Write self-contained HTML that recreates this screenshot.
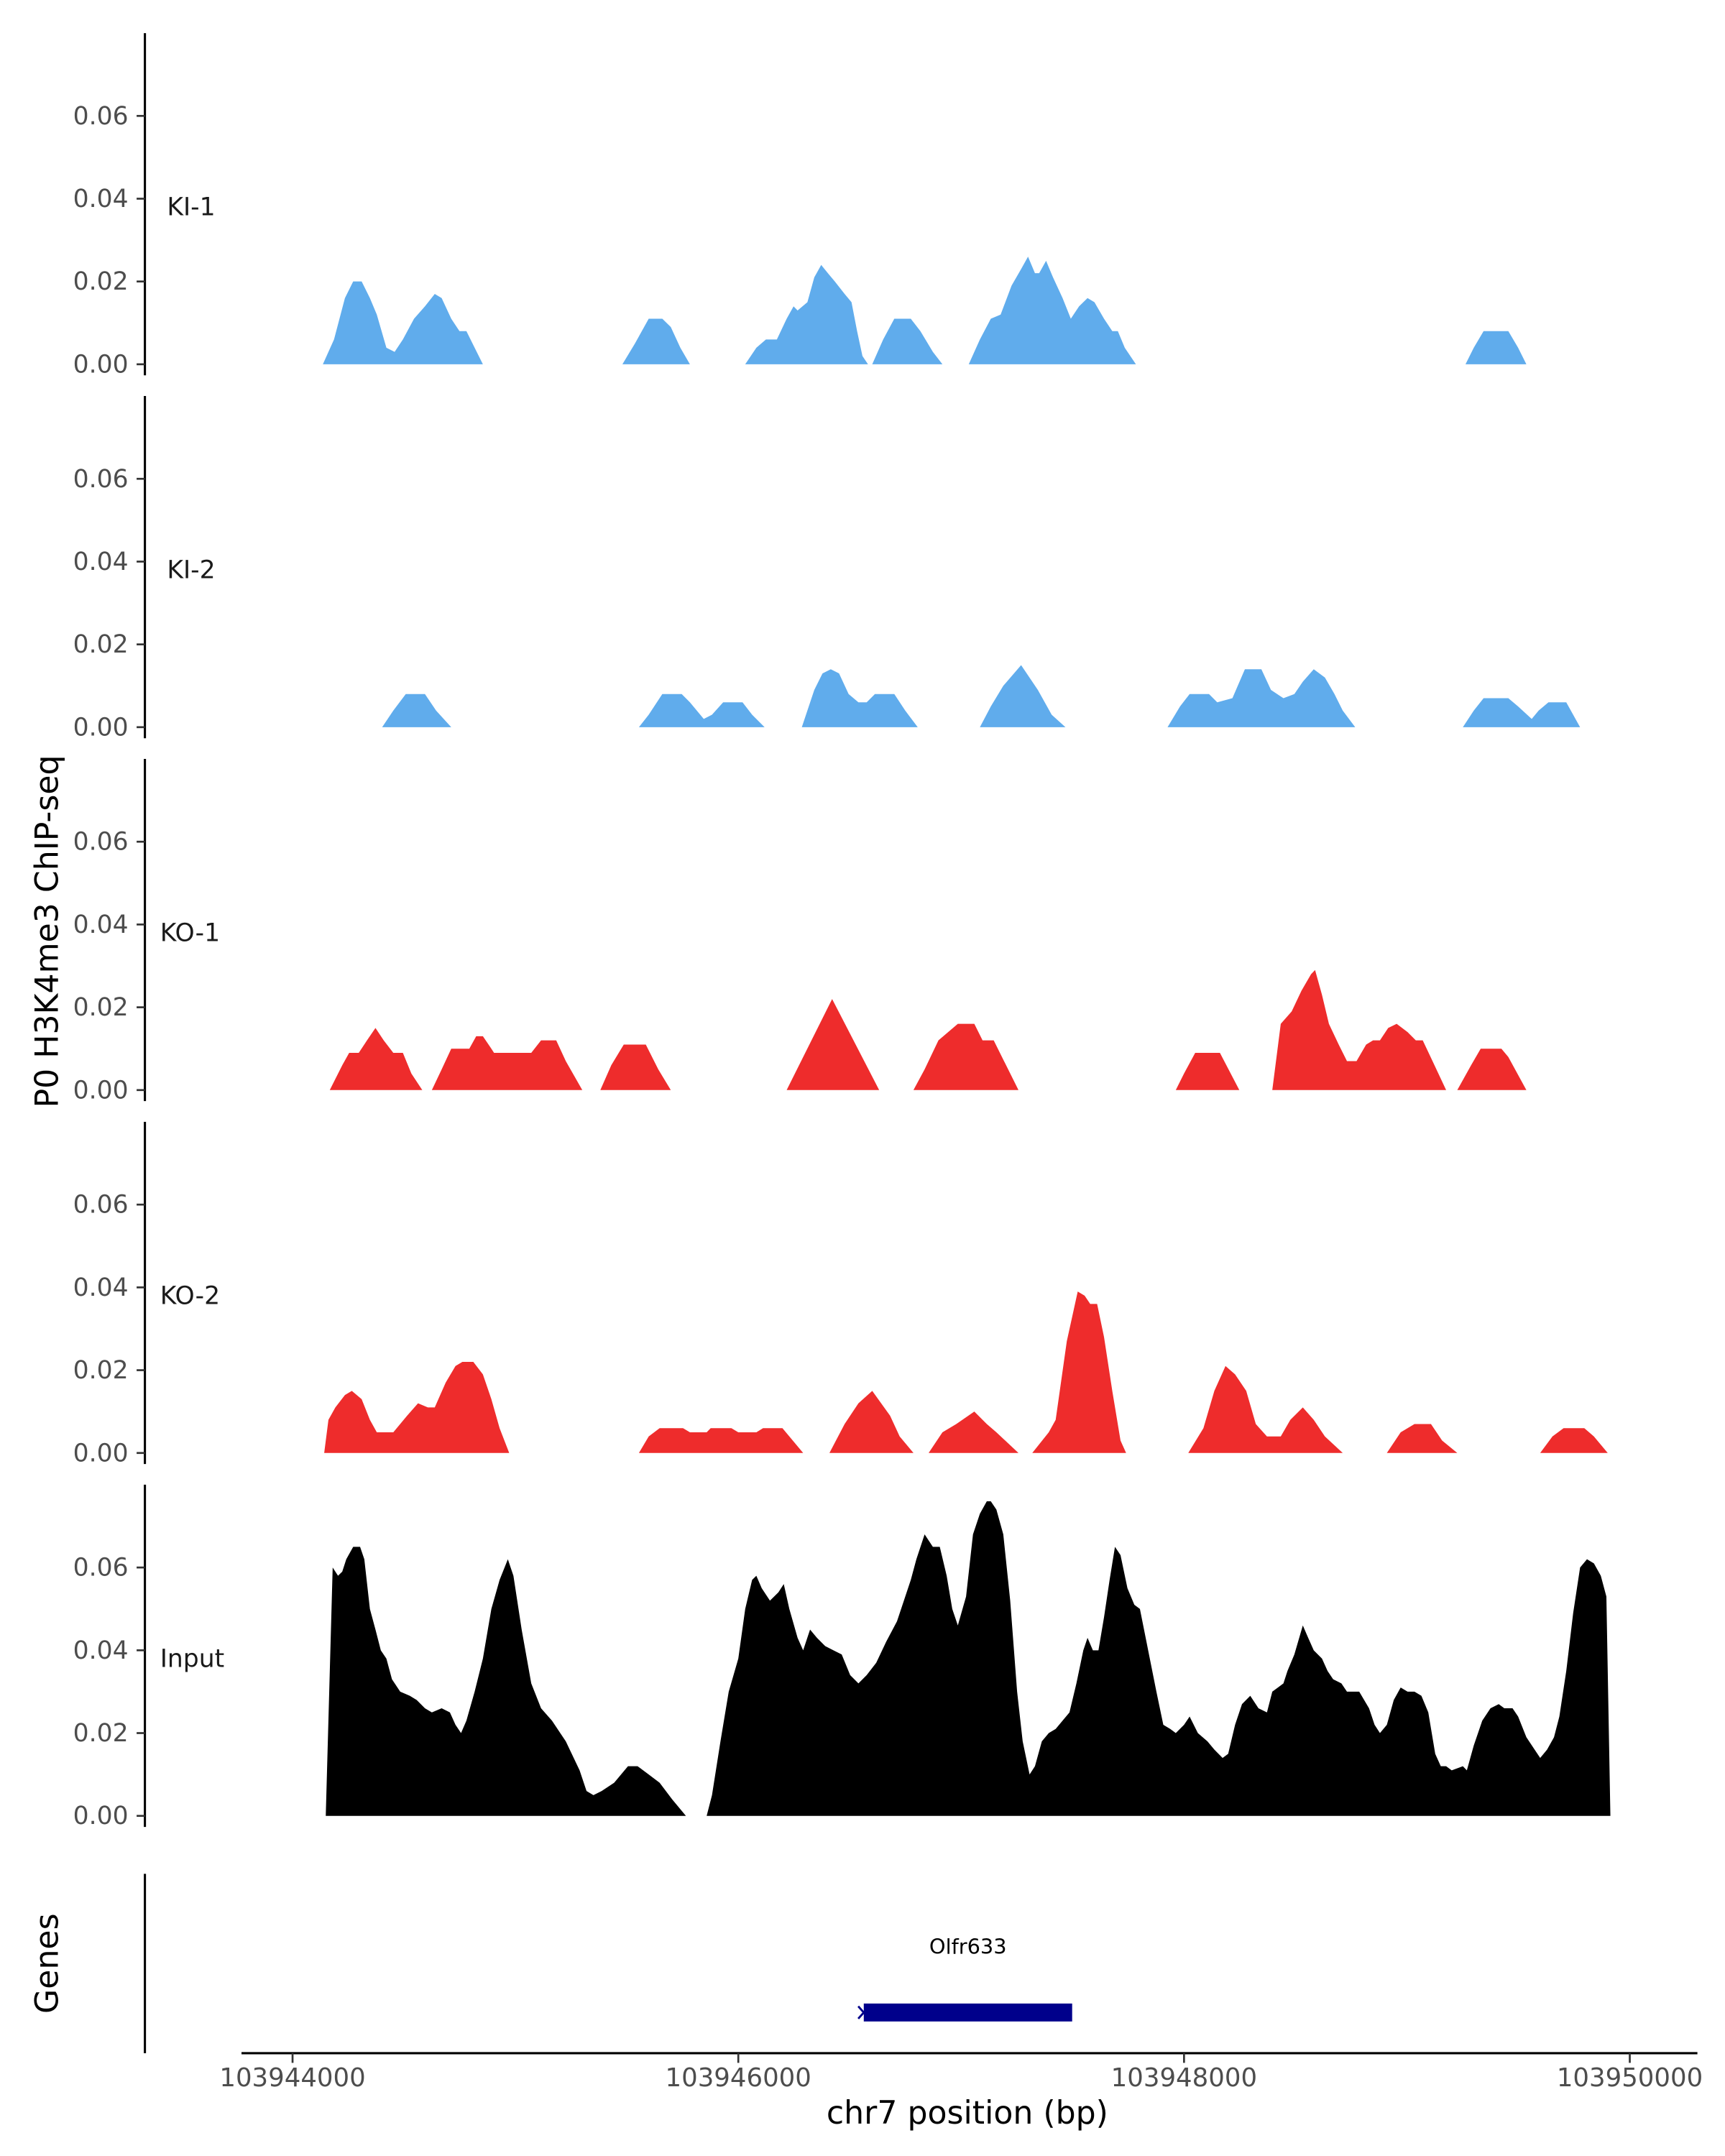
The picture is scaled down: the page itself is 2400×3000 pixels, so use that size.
<!DOCTYPE html>
<html><head><meta charset="utf-8">
<style>
html,body{margin:0;padding:0;background:#fff;}
svg{display:block;font-family:"DejaVu Sans","Liberation Sans",sans-serif;}
</style></head>
<body>
<svg id="chart" width="2400" height="3000" viewBox="0 0 1250 1562.5" xmlns="http://www.w3.org/2000/svg">
<text x="42" y="675" transform="rotate(-90 42 675)" text-anchor="middle" font-size="23" fill="#000">P0 H3K4me3 ChIP-seq</text>
<text x="42" y="1423" transform="rotate(-90 42 1423)" text-anchor="middle" font-size="23" fill="#000">Genes</text>
<line x1="105" y1="1358" x2="105" y2="1488" stroke="#000" stroke-width="1.6"/>
<line x1="175" y1="1488" x2="1230" y2="1488" stroke="#000" stroke-width="1.6"/>
<text x="701" y="1539" text-anchor="middle" font-size="23" fill="#000">chr7 position (bp)</text>
<g id="tracks"></g>
<g id="xaxis"></g>
<g id="genes"></g>
</svg>
<script>
const START = 103944000;
const trackNames = ["KI-1","KI-2","KO-1","KO-2","Input"];
const trackColors = ["#60ACEC","#60ACEC","#EE2C2C","#EE2C2C","#000000"];
const yTicks = [0, 0.02, 0.04, 0.06];
const yTickLabels = ["0.00","0.02","0.04","0.06"];
const xTicks = [103944000, 103946000, 103948000, 103950000];
const xTickLabels = ["103944000","103946000","103948000","103950000"];
const geneName = "Olfr633";
const geneStart = 103946563;
const geneEnd = 103947498;

// positions in kb offset from START; null separates segments
const ki1Pos = [0.136,0.186,0.235,0.272,0.310,0.347,0.378,0.421,0.458,0.495,0.545,0.594,0.638,0.669,0.712,0.749,0.780,0.817,0.854,null,
1.480,1.536,1.598,1.659,1.697,1.740,1.783,null,
2.031,2.081,2.124,2.173,2.217,2.248,2.266,2.310,2.341,2.372,2.402,2.433,2.477,2.508,2.533,2.557,2.582,null,
2.601,2.650,2.700,2.774,2.817,2.873,2.916,null,
3.034,3.084,3.133,3.177,3.226,3.269,3.300,3.331,3.350,3.381,3.412,3.455,3.492,3.529,3.567,3.598,3.641,3.678,3.703,3.734,3.784,null,
5.263,5.300,5.344,5.455,5.499,5.536];
const ki1Val = [0,0.006,0.016,0.02,0.02,0.016,0.012,0.004,0.003,0.006,0.011,0.014,0.017,0.016,0.011,0.008,0.008,0.004,0,null,
0,0.005,0.011,0.011,0.009,0.004,0,null,
0,0.004,0.006,0.006,0.011,0.014,0.013,0.015,0.021,0.024,0.022,0.02,0.017,0.015,0.008,0.002,0,null,
0,0.006,0.011,0.011,0.008,0.003,0,null,
0,0.006,0.011,0.012,0.019,0.023,0.026,0.022,0.022,0.025,0.021,0.016,0.011,0.014,0.016,0.015,0.011,0.008,0.008,0.004,0,null,
0,0.004,0.008,0.008,0.004,0];

const ki2Pos = [0.402,0.452,0.508,0.594,0.644,0.712,null,
1.554,1.598,1.659,1.746,1.783,1.845,1.882,1.932,2.019,2.062,2.118,null,
2.285,2.341,2.378,2.415,2.452,2.495,2.539,2.576,2.613,2.700,2.749,2.805,null,
3.084,3.133,3.189,3.269,3.344,3.406,3.468,null,
3.926,3.982,4.025,4.112,4.149,4.217,4.273,4.347,4.390,4.446,4.495,4.533,4.582,4.632,4.675,4.712,4.768,null,
5.251,5.300,5.344,5.455,5.499,5.560,5.591,5.635,5.715,5.777];
const ki2Val = [0,0.004,0.008,0.008,0.004,0,null,
0,0.003,0.008,0.008,0.006,0.002,0.003,0.006,0.006,0.003,0,null,
0,0.009,0.013,0.014,0.013,0.008,0.006,0.006,0.008,0.008,0.004,0,null,
0,0.005,0.01,0.015,0.009,0.003,0,null,
0,0.005,0.008,0.008,0.006,0.007,0.014,0.014,0.009,0.007,0.008,0.011,0.014,0.012,0.008,0.004,0,null,
0,0.004,0.007,0.007,0.005,0.002,0.004,0.006,0.006,0];

const ko1Pos = [0.167,0.223,0.254,0.297,0.334,0.372,0.409,0.452,0.495,0.533,0.582,null,
0.625,0.669,0.712,0.793,0.824,0.854,0.892,0.904,1.071,1.115,1.183,1.226,1.300,null,
1.381,1.430,1.486,1.585,1.641,1.697,null,
2.217,2.421,2.632,null,
2.786,2.836,2.898,2.985,3.059,3.096,3.146,3.257,null,
3.963,4.000,4.050,4.161,4.248,null,
4.396,4.434,4.483,4.527,4.570,4.588,4.619,4.650,4.694,4.731,4.774,4.817,4.848,4.879,4.916,4.954,5.003,5.040,5.071,5.115,5.176,null,
5.226,5.288,5.331,5.424,5.455,5.536];
const ko1Val = [0,0.006,0.009,0.009,0.012,0.015,0.012,0.009,0.009,0.004,0,null,
0,0.005,0.01,0.01,0.013,0.013,0.01,0.009,0.009,0.012,0.012,0.007,0,null,
0,0.006,0.011,0.011,0.005,0,null,
0,0.022,0,null,
0,0.005,0.012,0.016,0.016,0.012,0.012,0,null,
0,0.004,0.009,0.009,0,null,
0,0.016,0.019,0.024,0.028,0.029,0.023,0.016,0.011,0.007,0.007,0.011,0.012,0.012,0.015,0.016,0.014,0.012,0.012,0.007,0,null,
0,0.006,0.01,0.01,0.008,0];

const ko2Pos = [0.142,0.161,0.192,0.235,0.266,0.310,0.347,0.378,0.452,0.514,0.563,0.607,0.638,0.687,0.731,0.762,0.811,0.854,0.892,0.929,0.972,null,
1.554,1.598,1.647,1.752,1.783,1.858,1.876,1.969,2.000,2.081,2.111,2.198,2.291,null,
2.409,2.477,2.539,2.601,2.681,2.724,2.786,null,
2.854,2.916,2.978,3.059,3.115,3.158,3.257,null,
3.319,3.393,3.424,3.474,3.523,3.554,3.579,3.610,3.641,3.678,3.715,3.740,null,
4.019,4.087,4.136,4.186,4.229,4.279,4.322,4.372,4.434,4.477,4.533,4.582,4.632,4.712,null,
4.910,4.972,5.034,5.108,5.158,5.226,null,
5.598,5.653,5.703,5.796,5.839,5.901];
const ko2Val = [0,0.008,0.011,0.014,0.015,0.013,0.008,0.005,0.005,0.009,0.012,0.011,0.011,0.017,0.021,0.022,0.022,0.019,0.013,0.006,0,null,
0,0.004,0.006,0.006,0.005,0.005,0.006,0.006,0.005,0.005,0.006,0.006,0,null,
0,0.007,0.012,0.015,0.009,0.004,0,null,
0,0.005,0.007,0.01,0.007,0.005,0,null,
0,0.005,0.008,0.027,0.039,0.038,0.036,0.036,0.028,0.015,0.003,0,null,
0,0.006,0.015,0.021,0.019,0.015,0.007,0.004,0.004,0.008,0.011,0.008,0.004,0,null,
0,0.005,0.007,0.007,0.003,0,null,
0,0.004,0.006,0.006,0.004,0];

const inputPos = [0.149,0.180,0.204,0.223,0.241,0.272,0.303,0.322,0.347,0.372,0.396,0.421,0.446,0.483,0.526,0.557,0.594,0.625,0.669,0.706,0.731,0.756,0.780,0.817,0.854,0.892,0.929,0.966,0.991,1.028,1.071,1.115,1.164,1.226,1.288,1.319,1.350,1.387,1.443,1.505,1.548,1.598,1.647,1.703,1.765,null,
1.858,1.882,1.920,1.957,2.000,2.031,2.062,2.081,2.105,2.142,2.180,2.204,2.229,2.266,2.291,2.322,2.353,2.390,2.427,2.464,2.502,2.539,2.576,2.619,2.663,2.712,2.743,2.774,2.799,2.836,2.873,2.904,2.935,2.960,2.985,3.022,3.053,3.084,3.115,3.133,3.158,3.189,3.220,3.251,3.276,3.307,3.331,3.362,3.393,3.424,3.455,3.486,3.517,3.548,3.567,3.591,3.616,3.641,3.666,3.690,3.715,3.746,3.777,3.802,3.839,3.876,3.907,3.938,3.963,4.000,4.025,4.062,4.105,4.136,4.173,4.198,4.229,4.260,4.297,4.334,4.372,4.396,4.446,4.464,4.495,4.533,4.557,4.582,4.619,4.644,4.669,4.706,4.731,4.786,4.830,4.855,4.879,4.910,4.941,4.972,5.003,5.034,5.065,5.096,5.127,5.152,5.176,5.201,5.251,5.269,5.300,5.338,5.375,5.412,5.437,5.474,5.499,5.536,5.573,5.598,5.629,5.660,5.684,5.715,5.746,5.777,5.808,5.839,5.870,5.895,5.913];
const inputVal = [0,0.06,0.058,0.059,0.062,0.065,0.065,0.062,0.05,0.045,0.04,0.038,0.033,0.03,0.029,0.028,0.026,0.025,0.026,0.025,0.022,0.02,0.023,0.03,0.038,0.05,0.057,0.062,0.058,0.045,0.032,0.026,0.023,0.018,0.011,0.006,0.005,0.006,0.008,0.012,0.012,0.01,0.008,0.004,0,null,
0,0.005,0.018,0.03,0.038,0.05,0.057,0.058,0.055,0.052,0.054,0.056,0.05,0.043,0.04,0.045,0.043,0.041,0.04,0.039,0.034,0.032,0.034,0.037,0.042,0.047,0.052,0.057,0.062,0.068,0.065,0.065,0.058,0.05,0.046,0.053,0.068,0.073,0.076,0.076,0.074,0.068,0.052,0.03,0.018,0.01,0.012,0.018,0.02,0.021,0.023,0.025,0.032,0.04,0.043,0.04,0.04,0.048,0.057,0.065,0.063,0.055,0.051,0.05,0.04,0.03,0.022,0.021,0.02,0.022,0.024,0.02,0.018,0.016,0.014,0.015,0.022,0.027,0.029,0.026,0.025,0.03,0.032,0.035,0.039,0.046,0.043,0.04,0.038,0.035,0.033,0.032,0.03,0.03,0.026,0.022,0.02,0.022,0.028,0.031,0.03,0.03,0.029,0.025,0.015,0.012,0.012,0.011,0.012,0.011,0.017,0.023,0.026,0.027,0.026,0.026,0.024,0.019,0.016,0.014,0.016,0.019,0.024,0.035,0.049,0.06,0.062,0.061,0.058,0.053,0];

const trackPos = [ki1Pos, ki2Pos, ko1Pos, ko2Pos, inputPos];
const trackVal = [ki1Val, ki2Val, ko1Val, ko2Val, inputVal];

const NS = "http://www.w3.org/2000/svg";
const X0 = 212, PXPERBP = 0.1615;
function xScale(bp){ return X0 + (bp - START) * PXPERBP; }
const BASE0 = 264, PANEL_STEP = 263, PX_PER_UNIT = 3000;
function yScale(v, i){ return BASE0 + i * PANEL_STEP - v * PX_PER_UNIT; }
function mk(tag, attrs){ const e = document.createElementNS(NS, tag); for (const k in attrs) e.setAttribute(k, attrs[k]); return e; }

const tracksG = document.getElementById("tracks");
trackNames.forEach((name, i) => {
  const g = mk("g", {});
  
  
  tracksG.appendChild(g);
  const base = yScale(0, i);
  const axis = mk("line", {x1:105, y1:base-240, x2:105, y2:base+8, stroke:"#000", "stroke-width":1.6});
  
  
  g.appendChild(axis);
  yTicks.forEach((t, k) => {
    const y = yScale(t, i);
    const tk = mk("line", {x1:99, y1:y, x2:105, y2:y, stroke:"#333", "stroke-width":1.4});
    
    
    g.appendChild(tk);
    const lb = mk("text", {x:93, y:y+6, "text-anchor":"end", "font-size":18, fill:"#4d4d4d"});
    lb.textContent = yTickLabels[k];
    
    
    g.appendChild(lb);
  });
  const lab = mk("text", {x: name.startsWith("KI") ? 121 : 116, y: base-108, "font-size":18, fill:"#1a1a1a"});
  lab.textContent = name;
  
  
  g.appendChild(lab);
  const pos = trackPos[i], val = trackVal[i];
  let d = "", seg = [];
  const flush = () => {
    if (seg.length) {
      d += "M" + xScale(START + seg[0][0]*1000).toFixed(2) + "," + base;
      seg.forEach(p => { d += "L" + xScale(START + p[0]*1000).toFixed(2) + "," + yScale(p[1], i).toFixed(2); });
      d += "L" + xScale(START + seg[seg.length-1][0]*1000).toFixed(2) + "," + base + "Z";
    }
    seg = [];
  };
  for (let k = 0; k < pos.length; k++) {
    if (pos[k] === null) { flush(); continue; }
    seg.push([pos[k], val[k]]);
  }
  flush();
  const area = mk("path", {d: d, fill: trackColors[i]});
  
  
  g.appendChild(area);
});

const xg = document.getElementById("xaxis");
xTicks.forEach((t, k) => {
  const x = xScale(t);
  const tk = mk("line", {x1:x, y1:1488, x2:x, y2:1495, stroke:"#333", "stroke-width":1.4});
  
  
  xg.appendChild(tk);
  const lb = mk("text", {x:x, y:1512, "text-anchor":"middle", "font-size":18.5, fill:"#4d4d4d"});
  lb.textContent = xTickLabels[k];
  
  
  xg.appendChild(lb);
});

const gg = document.getElementById("genes");
const gx1 = xScale(geneStart), gx2 = xScale(geneEnd);
const gr = mk("rect", {x:gx1, y:1452, width:gx2-gx1, height:13, fill:"#00008B"});


gg.appendChild(gr);
const ga = mk("path", {d:"M"+(gx1-4)+",1454L"+(gx1)+",1458.5L"+(gx1-4)+",1463", stroke:"#00008B", "stroke-width":1.5, fill:"none"});


gg.appendChild(ga);
const gl = mk("text", {x:(gx1+gx2)/2, y:1416, "text-anchor":"middle", "font-size":15, fill:"#000"});
gl.textContent = geneName;


gg.appendChild(gl);
</script>
</body></html>
